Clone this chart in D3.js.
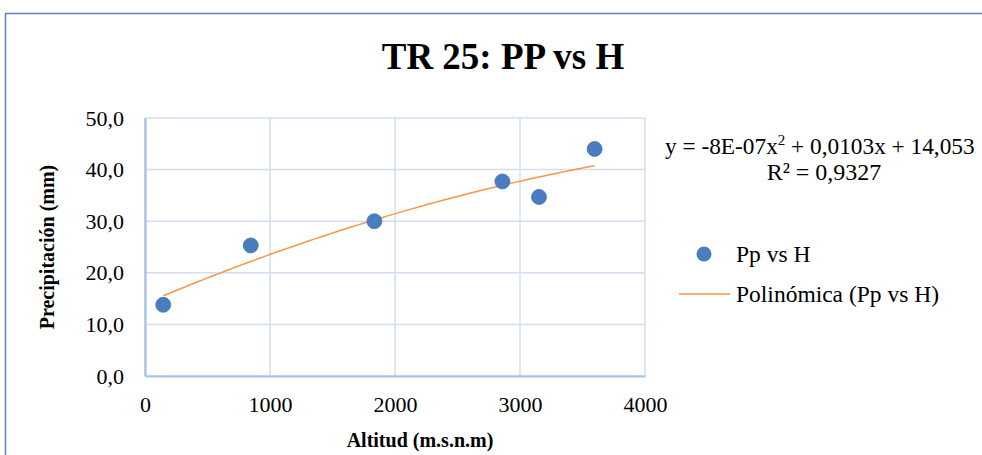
<!DOCTYPE html>
<html><head><meta charset="utf-8">
<script src="https://cdn.jsdelivr.net/npm/d3@7"></script>
<style>body{margin:0;background:#fff}svg{display:block}text{font-family:"Liberation Serif","Times New Roman",serif;fill:#000}</style>
</head><body>
<script>
const altitudes = [146, 846, 1835, 2859, 3152, 3597];
const precip = [13.8, 25.3, 30.0, 37.7, 34.7, 44.0];
const xTicks = [0, 1000, 2000, 3000, 4000];
const yTicks = [0, 10, 20, 30, 40, 50];
const trendCoef = [-8e-7, 0.0103, 14.053]; // a, b, c from displayed equation
const titleText = "TR 25: PP vs H";
const xTitle = "Altitud (m.s.n.m)";
const yTitle = "Precipitación (mm)";
const seriesName = "Pp vs H";
const trendName = "Polinómica (Pp vs H)";

const SERIF = '"Liberation Serif","Times New Roman",serif';
const W = 982, H = 455;
const svg = d3.select("body").append("svg").attr("width", W).attr("height", H);
svg.append("rect").attr("x", 5.5).attr("y", 13.5).attr("width", 1000).attr("height", 500)
  .attr("fill", "#fff").attr("stroke", "#5b84c4").attr("stroke-width", 1.5);

const x = d3.scaleLinear().domain([0, 4000]).range([145, 645]);
const y = d3.scaleLinear().domain([0, 50]).range([376, 118]);

// grid
svg.append("g").selectAll("line").data(yTicks).join("line")
  .attr("x1", x(0)).attr("x2", x(4000)).attr("y1", d => y(d)).attr("y2", d => y(d))
  .attr("stroke", "#d2def2").attr("stroke-width", 1.5);
svg.append("g").selectAll("line").data(xTicks).join("line")
  .attr("y1", y(0)).attr("y2", y(50)).attr("x1", d => x(d)).attr("x2", d => x(d))
  .attr("stroke", "#d2def2").attr("stroke-width", 1.5);

// axes using d3 axis
const fmt = d => d3.format(".1f")(d).replace(".", ",");
const gy = svg.append("g").attr("transform", `translate(${x(0)},0)`)
  .call(d3.axisLeft(y).tickValues(yTicks).tickFormat(fmt).tickSize(0).tickPadding(21));
const gx = svg.append("g").attr("transform", `translate(0,${y(0)})`)
  .call(d3.axisBottom(x).tickValues(xTicks).tickFormat(d3.format("d")).tickSize(0).tickPadding(20));
[gx, gy].forEach(g => {
  g.attr("font-family", SERIF).attr("font-size", 22);
  g.select(".domain").attr("stroke", "#a6c2ea").attr("stroke-width", 2.2);
  g.selectAll("text").attr("font-family", SERIF).style("font-family", SERIF).style("font-size", "22px").attr("fill", "#000");
});

// trendline
const lo = d3.min(altitudes), hi = d3.max(altitudes);
const trendX = d3.range(lo, hi + 1, (hi - lo) / 100);
const f = v => trendCoef[0] * v * v + trendCoef[1] * v + trendCoef[2];
svg.append("path").datum(trendX)
  .attr("d", d3.line().x(d => x(d)).y(d => y(f(d))))
  .attr("fill", "none").attr("stroke", "#f79646").attr("stroke-width", 1.5);

// points
svg.append("g").selectAll("circle").data(altitudes).join("circle")
  .attr("cx", d => x(d)).attr("cy", (d, i) => y(precip[i])).attr("r", 7.5)
  .attr("fill", "#4a7dbf").attr("stroke", "#4576b5").attr("stroke-width", 0.8);

// title
svg.append("text").attr("x", 503).attr("y", 69).attr("text-anchor", "middle")
  .style("font-size", "37px").style("font-weight", "bold").text(titleText);

// axis titles
svg.append("text").attr("x", 420).attr("y", 447).attr("text-anchor", "middle")
  .style("font-size", "20px").style("font-weight", "bold").text(xTitle);
svg.append("text").attr("transform", `translate(54,${(y(0) + y(50)) / 2}) rotate(-90)`)
  .attr("text-anchor", "middle").style("font-size", "20px").style("font-weight", "bold").text(yTitle);

// equation
const eq = svg.append("text").attr("x", 665).attr("y", 154).style("font-size", "23.3px");
eq.append("tspan").text("y = -8E-07x");
eq.append("tspan").attr("dy", -9).style("font-size", "15px").text("2");
eq.append("tspan").attr("dy", 9).text(" + 0,0103x + 14,053");
svg.append("text").attr("x", 824).attr("y", 180).attr("text-anchor", "middle")
  .style("font-size", "24px").text("R² = 0,9327");

// legend
svg.append("circle").attr("cx", 704).attr("cy", 254).attr("r", 7.5).attr("fill", "#4a7dbf");
svg.append("text").attr("x", 736).attr("y", 262).style("font-size", "23.5px").text(seriesName);
svg.append("line").attr("x1", 679).attr("x2", 730).attr("y1", 294).attr("y2", 294)
  .attr("stroke", "#f79646").attr("stroke-width", 1.5);
svg.append("text").attr("x", 736).attr("y", 302).style("font-size", "23.5px").text(trendName);
</script>
</body></html>
